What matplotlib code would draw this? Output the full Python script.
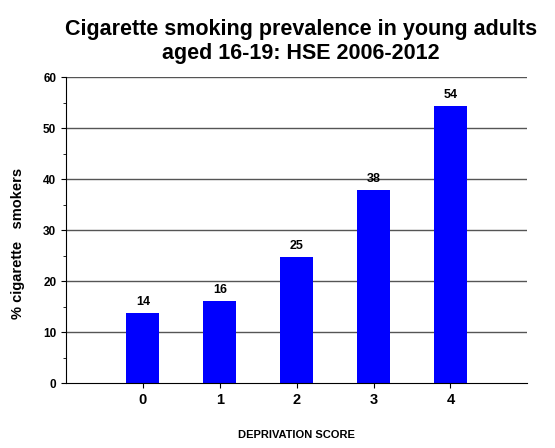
import matplotlib.pyplot as plt
from matplotlib.ticker import MultipleLocator

plt.rcParams['font.family'] = ['Liberation Sans', 'DejaVu Sans']

# Deprivation score vs % smokers
scores = [0, 1, 2, 3, 4]
smokers = [13.8, 16.1, 24.7, 37.9, 54.4]
labels = ['14', '16', '25', '38', '54']

fig = plt.figure(figsize=(5.55, 4.48), dpi=100)
ax = fig.add_axes([0.119, 0.145, 0.831, 0.683])

for y in [10, 20, 30, 40, 50, 60]:
    ax.axhline(y, color='#555555', lw=1, zorder=1)

bars = ax.bar(scores, smokers, width=0.43, color='#0000ff', zorder=2)
for b, lab in zip(bars, labels):
    ax.text(b.get_x() + b.get_width() / 2, b.get_height() + 1.0, lab,
            ha='center', va='bottom', fontsize=9, fontweight='bold')

ax.set_xlim(-1, 5)
ax.set_ylim(0, 60)
ax.yaxis.set_major_locator(MultipleLocator(10))
ax.yaxis.set_minor_locator(MultipleLocator(5))
ax.set_xticks(scores)
ax.tick_params(axis='both', labelsize=10.5, direction='out')
ax.tick_params(axis='y', labelsize=8.5)
for t in ax.get_xticklabels() + ax.get_yticklabels():
    t.set_fontweight('bold')

ax.spines['top'].set_visible(False)
ax.spines['right'].set_visible(False)

ax.set_ylabel('% cigarette   smokers', fontsize=10.5, fontweight='bold')
ax.yaxis.set_label_coords(-0.09, 0.455)
ax.set_xlabel('DEPRIVATION SCORE', fontsize=8, fontweight='bold', labelpad=17)
ax.set_title('Cigarette smoking prevalence in young adults\naged 16-19: HSE 2006-2012',
             fontsize=15.5, fontweight='bold', pad=13, x=0.51, linespacing=1.2)

plt.savefig('out.png', dpi=100)
